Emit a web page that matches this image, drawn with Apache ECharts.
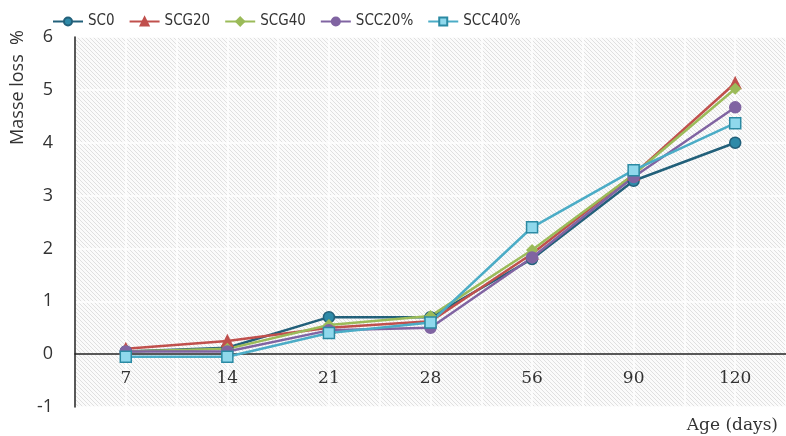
<!DOCTYPE html>
<html>
<head>
<meta charset="utf-8">
<script src="https://cdn.jsdelivr.net/npm/echarts@6/dist/echarts.min.js"></script>
<style>
  html, body { margin: 0; padding: 0; background: #fff; }
  #chart { width: 786px; height: 436px; }
</style>
</head>
<body>
<div id="chart"></div>
<script>
var ages = ['7', '14', '21', '28', '56', '90', '120'];
var halfSteps = ['', '', '', '', '', '', '', '', '', '', '', '', '', ''];
var sc0 = [0.05, 0.12, 0.7, 0.7, 1.8, 3.28, 4.0];
var scg20 = [0.1, 0.25, 0.5, 0.62, 1.9, 3.4, 5.13];
var scg40 = [0.05, 0.1, 0.55, 0.72, 1.97, 3.4, 5.02];
var scc20 = [0.05, 0.05, 0.45, 0.5, 1.83, 3.35, 4.67];
var scc40 = [-0.05, -0.05, 0.4, 0.6, 2.4, 3.48, 4.37];

// hatched background
var hatch = document.createElement('canvas');
hatch.width = 4; hatch.height = 4;
var hc = hatch.getContext('2d');
hc.fillStyle = '#fbfbfb';
hc.fillRect(0, 0, 4, 4);
hc.strokeStyle = '#e0e0e0';
hc.lineWidth = 1;
hc.beginPath();
hc.moveTo(-1, -1); hc.lineTo(5, 5);
hc.moveTo(-1, 3); hc.lineTo(1, 5);
hc.moveTo(3, -1); hc.lineTo(5, 1);
hc.stroke();

var chart = echarts.init(document.getElementById('chart'));

function mk(name, data, line, fill, border, symbol, size) {
  return {
    name: name,
    type: 'line',
    xAxisIndex: 0,
    data: data,
    symbol: symbol,
    symbolSize: size,
    lineStyle: { color: line, width: 2.5 },
    itemStyle: { color: fill, borderColor: border, borderWidth: 1.5 },
    emphasis: { disabled: true }
  };
}

chart.setOption({
  animation: false,
  legend: {
    top: 9,
    left: 47,
    itemWidth: 30,
    itemHeight: 10,
    itemGap: 14,
    textStyle: { fontFamily: 'Liberation Sans Narrow, DejaVu Sans Condensed', fontSize: 15, color: '#333' }
  },
  grid: {
    left: 75,
    top: 37,
    width: 717,
    height: 370,
    show: true,
    borderWidth: 0,
    backgroundColor: { image: hatch, repeat: 'repeat' }
  },
  xAxis: [{
    type: 'category',
    data: ages,
    offset: -53,
    axisLine: { onZero: false, lineStyle: { color: '#222', width: 1.5 } },
    axisTick: { show: false },
    axisLabel: { margin: 16, fontSize: 17, color: '#333', fontFamily: 'DejaVu Serif' },
    splitLine: { show: false }
  }, {
    type: 'category',
    data: halfSteps,
    position: 'bottom',
    axisLine: { show: false },
    axisTick: { show: false },
    axisLabel: { show: false },
    splitLine: { show: true, interval: 0, lineStyle: { color: '#ffffff', width: 1.5 } }
  }],
  yAxis: {
    type: 'value',
    min: -1,
    max: 6,
    interval: 1,
    axisLine: { show: true, lineStyle: { color: '#222', width: 1.5 } },
    axisTick: { show: false },
    axisLabel: { margin: 22, fontSize: 18, color: '#333', fontFamily: 'Open Sans' },
    splitLine: { lineStyle: { color: '#ffffff', width: 1.5 } }
  },
  graphic: [{
    type: 'text',
    left: 9,
    top: 30,
    rotation: Math.PI / 2,
    style: { text: 'Masse loss  %', fontSize: 18, fill: '#333', fontFamily: 'Open Sans' }
  }, {
    type: 'text',
    right: 8,
    bottom: 2,
    style: { text: 'Age (days)', fontSize: 17, fill: '#333', fontFamily: 'DejaVu Serif' }
  }],
  series: [
    mk('SC0', sc0, '#22607a', '#2e8aa8', '#22607a', 'circle', 11),
    mk('SCG20', scg20, '#c0504d', '#c0504d', '#c0504d', 'triangle', 11),
    mk('SCG40', scg40, '#9bbb59', '#9bbb59', '#9bbb59', 'diamond', 10),
    mk('SCC20%', scc20, '#8064a2', '#8064a2', '#8064a2', 'circle', 11),
    mk('SCC40%', scc40, '#4bacc6', '#8fd8ec', '#2b8aa3', 'rect', 11)
  ]
});
</script>
</body>
</html>
